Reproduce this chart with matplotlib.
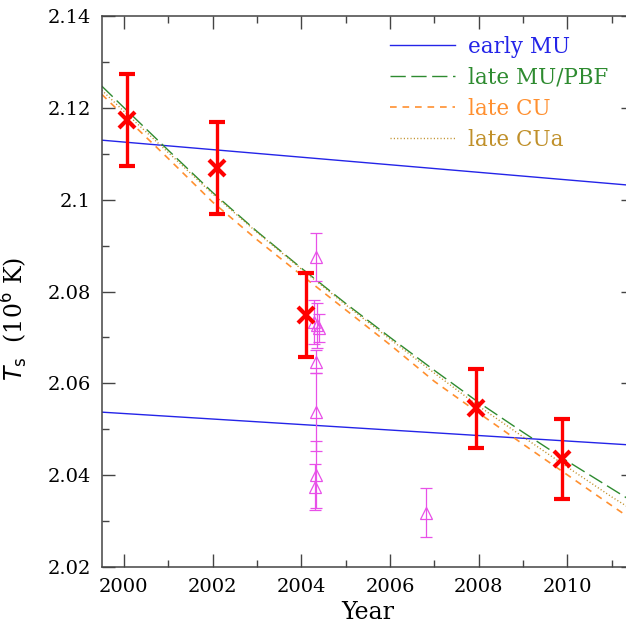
import matplotlib
matplotlib.use("Agg")
import matplotlib.pyplot as plt
from matplotlib.ticker import MultipleLocator, FuncFormatter

# observed temperatures (red crosses)
obs_year = [2000.06, 2002.09, 2004.10, 2007.94, 2009.87]
obs_ts = [2.1174, 2.1069, 2.0749, 2.0545, 2.0434]
obs_err = [0.0101, 0.0101, 0.0092, 0.0087, 0.0087]

# other measurements (magenta triangles)
oth_year = [2004.32, 2004.28, 2004.36, 2004.40, 2004.33, 2004.33, 2004.33, 2004.30, 2006.80]
oth_ts = [2.0876, 2.0733, 2.0726, 2.0720, 2.0647, 2.0538, 2.0400, 2.0374, 2.0318]
oth_err = [0.0052, 0.0048, 0.0050, 0.0030, 0.0025, 0.0085, 0.0073, 0.0051, 0.0054]

# model cooling curves
early_year = [1999.5, 2011.5]
early_hi = [2.1130, 2.1031]
early_lo = [2.0537, 2.0465]

curve_year = [1999.5, 2000, 2001, 2002, 2003, 2004, 2005, 2006, 2007,
              2008, 2009, 2010, 2011, 2011.5]
late_mu = [2.1248, 2.1201, 2.1108, 2.1016, 2.0931, 2.0851, 2.0774, 2.0700,
           2.0628, 2.0558, 2.0493, 2.0430, 2.0370, 2.0340]
late_cu = [2.1230, 2.1183, 2.1090, 2.0995, 2.0913, 2.0836, 2.0760, 2.0684,
           2.0604, 2.0535, 2.0467, 2.0400, 2.0333, 2.0300]
late_cua = [2.1239, 2.1193, 2.1103, 2.1013, 2.0929, 2.0849, 2.0771, 2.0696,
            2.0622, 2.0550, 2.0483, 2.0417, 2.0352, 2.0322]

BLUE = "#2424e8"
GREEN = "#2e8b30"
ORANGE = "#ff9030"
GOLD = "#c0902a"
MAGENTA = "#e850e8"

plt.rcParams["font.family"] = ["DejaVu Serif"]

fig = plt.figure(figsize=(6.26, 6.28), dpi=100)
ax = fig.add_axes([0.1625, 0.0976, 0.8503, 0.8764])

l1, = ax.plot(early_year, early_hi, color=BLUE, lw=1.0)
ax.plot(early_year, early_lo, color=BLUE, lw=1.0)
l2, = ax.plot(curve_year, late_mu, color=GREEN, lw=1.0, dashes=(11, 4))
l3, = ax.plot(curve_year, late_cu, color=ORANGE, lw=1.2, dashes=(4, 3.5))
l4, = ax.plot(curve_year, late_cua, color=GOLD, lw=1.0, dashes=(0.8, 1.6))

ax.errorbar(oth_year, oth_ts, yerr=oth_err, fmt="^", color=MAGENTA,
            mfc="none", mec=MAGENTA, ms=8, mew=0.9, elinewidth=0.9,
            capsize=4.5, capthick=0.9)

ax.errorbar(obs_year, obs_ts, yerr=obs_err, fmt="x", color="red",
            ms=11, mew=3, elinewidth=2.4, capsize=6, capthick=2.4, zorder=5)

ax.set_xlim(1999.5, 2011.5)
ax.set_ylim(2.02, 2.14)
ax.xaxis.set_major_locator(MultipleLocator(2))
ax.xaxis.set_minor_locator(MultipleLocator(1))
ax.yaxis.set_major_locator(MultipleLocator(0.02))
ax.yaxis.set_minor_locator(MultipleLocator(0.01))
ax.yaxis.set_major_formatter(FuncFormatter(lambda v, p: "%g" % round(v, 3)))
ax.tick_params(which="both", direction="in", top=True, right=True,
               color="#444444", labelsize=14)
ax.tick_params(which="major", length=9.5, width=1.0, pad=8)
ax.tick_params(which="minor", length=5, width=1.0)
for s in ax.spines.values():
    s.set_color("#444444")
    s.set_linewidth(1.1)

ax.set_xlabel("Year", fontsize=17, labelpad=4)
ax.set_ylabel(r"$T_{\rm s}$  (10$^6$ K)", fontsize=17)
ax.yaxis.set_label_coords(-0.135, 0.45)

leg = ax.legend([l1, l2, l3, l4],
                ["early MU", "late MU/PBF", "late CU", "late CUa"],
                loc="upper left", bbox_to_anchor=(0.542, 0.965),
                frameon=False, fontsize=15.5, handlelength=3.0,
                handletextpad=0.6, labelspacing=0.42, borderpad=0,
                borderaxespad=0)
for txt, c in zip(leg.get_texts(), [BLUE, GREEN, ORANGE, GOLD]):
    txt.set_color(c)

fig.savefig("out.png", dpi=100)
